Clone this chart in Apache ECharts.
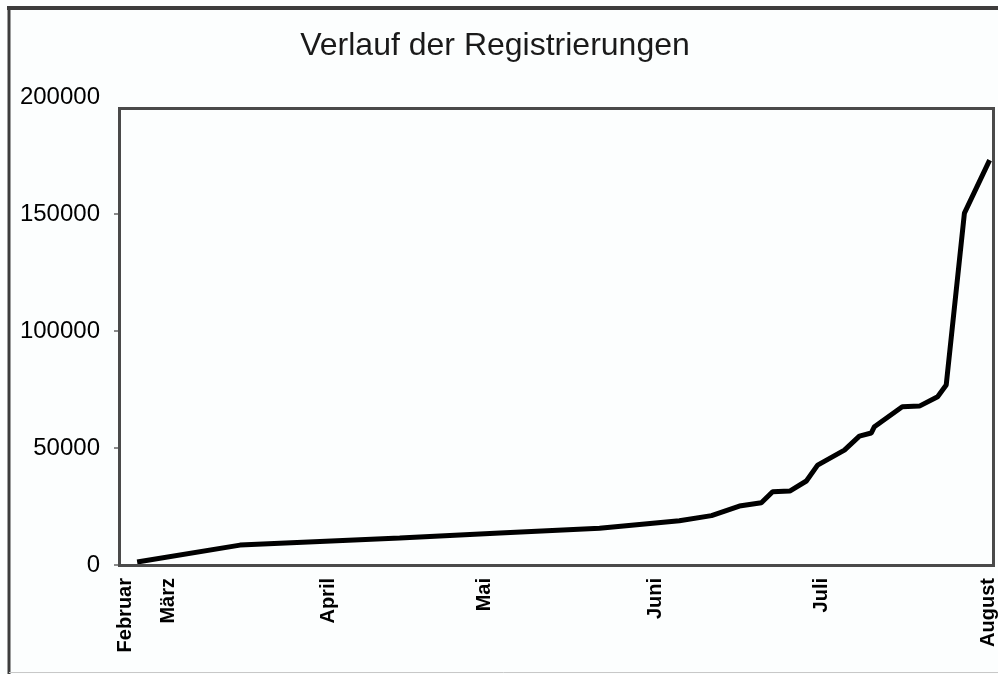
<!DOCTYPE html>
<html>
<head>
<meta charset="utf-8">
<script src="https://cdn.jsdelivr.net/npm/echarts@6/dist/echarts.min.js"></script>
<style>
  html, body { margin: 0; padding: 0; background: #fcfefe; }
  #chart { width: 998px; height: 674px; }
</style>
</head>
<body>
<div id="chart"></div>
<script>
// Month labels on the x axis and the day position where each sits
const monthLabels = ['Februar', 'März', 'April', 'Mai', 'Juni', 'Juli', 'August'];
const monthTickDays = [1, 9, 39, 68, 100, 131, 162];

// Data points: day position and number of registrations
const dayValues = [3.2, 22.4, 52.2, 70.9, 89.5, 104.4, 110.4, 115.6, 119.7, 121.8, 125.0, 128.1, 130.2, 135.2, 138.0, 140.2, 140.8, 146.0, 149.2, 152.6, 154.2, 157.6, 162.3];
const registrations = [1300, 8500, 11500, 13700, 15700, 18900, 21100, 25200, 26600, 31300, 31600, 35900, 42700, 49100, 55100, 56400, 59100, 67600, 67900, 71900, 76900, 150400, 173000];

// Y axis ticks
const yMin = 0, yMax = 200000, yStep = 50000;
const xMin = 0, xMax = 163;

const seriesData = dayValues.map((d, i) => [d, registrations[i]]);

const chart = echarts.init(document.getElementById('chart'), null, { renderer: 'canvas' });
const FONT = '"Liberation Sans", Arial, sans-serif';

chart.setOption({
  backgroundColor: '#fcfefe',
  animation: false,
  title: {
    text: 'Verlauf der Registrierungen',
    left: 490,
    top: 25,
    textAlign: 'center',
    textStyle: { fontFamily: FONT, fontSize: 32, fontWeight: 'normal', color: '#1a1a1a' }
  },
  grid: { left: 120, right: 4, top: 97, bottom: 109, containLabel: false },
  xAxis: {
    type: 'value',
    min: xMin,
    max: xMax,
    interval: 1,
    axisLine: { show: false },
    axisTick: { show: false },
    splitLine: { show: false },
    axisLabel: {
      rotate: 90,
      margin: 13,
      fontFamily: FONT,
      fontSize: 20,
      fontWeight: 'bold',
      color: '#000',
      formatter: function (v) {
        const r = Math.round(v);
        if (Math.abs(v - r) > 1e-6) return '';
        const i = monthTickDays.indexOf(r);
        return i >= 0 ? monthLabels[i] : '';
      }
    }
  },
  yAxis: {
    type: 'value',
    min: yMin,
    max: yMax,
    interval: yStep,
    axisLine: { show: false },
    axisTick: { show: true, inside: false, length: 6, lineStyle: { color: '#8a8a8a', width: 2 } },
    splitLine: { show: false },
    axisLabel: {
      margin: 20,
      fontFamily: FONT,
      fontSize: 24,
      color: '#000',
      formatter: function (v) { return String(Math.round(v)); }
    }
  },
  graphic: [
    // outer frame: top and left dark, bottom light
    { type: 'line', shape: { x1: 7, y1: 8, x2: 998, y2: 8 }, style: { stroke: '#3c3c3c', lineWidth: 4 }, z: 100 },
    { type: 'line', shape: { x1: 9, y1: 6, x2: 9, y2: 674 }, style: { stroke: '#3c3c3c', lineWidth: 3 }, z: 100 },
    { type: 'line', shape: { x1: 9, y1: 672.5, x2: 998, y2: 672.5 }, style: { stroke: '#c8c8c8', lineWidth: 1 }, z: 100 },
    // hide the top tick, which the reference does not show
    { type: 'rect', shape: { x: 109, y: 92, width: 13, height: 10 }, style: { fill: '#fcfefe' }, z: 90 },
    // plot frame
    { type: 'rect', shape: { x: 119.5, y: 108.5, width: 874, height: 457 }, style: { fill: null, stroke: '#4a4a4a', lineWidth: 3 }, z: 100 }
  ],
  series: [{
    type: 'line',
    data: seriesData,
    showSymbol: false,
    symbol: 'none',
    lineStyle: { color: '#000', width: 5 },
    z: 50
  }]
});
</script>
</body>
</html>
